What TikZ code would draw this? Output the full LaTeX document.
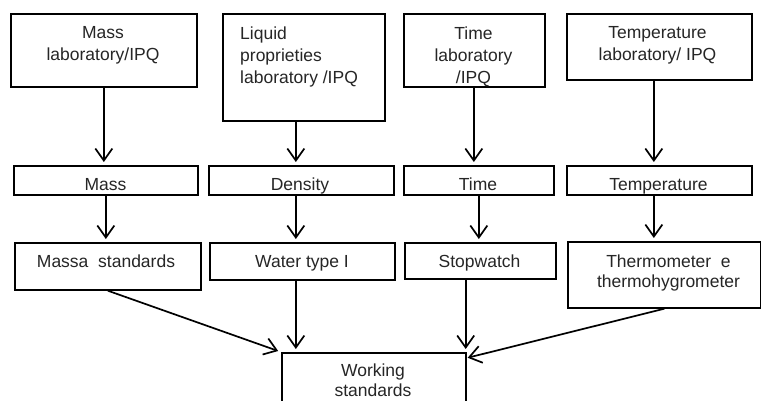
\documentclass[tikz,border=0pt]{standalone}
\usepackage{fontspec}
\setmainfont{Liberation Sans}
\usetikzlibrary{arrows.meta}
\tikzset{
  box/.style={draw, line width=1.7pt, inner sep=0pt, anchor=north west},
  txt/.style={inner sep=0pt, font=\fontsize{17.5}{22}\selectfont, align=center, text=black!85},
  arr/.style={line width=1.7pt, -{Straight Barb[length=12pt,width=17pt,line width=1.7pt]}, shorten >=3pt}
}
\begin{document}
\begin{tikzpicture}[x=1pt,y=-1pt]
\clip (0,0) rectangle (761,401);
\fill[white] (0,0) rectangle (761,401);
% top row
\node[box, minimum width=186pt, minimum height=73pt] (labM) at (10,13) {};
\node[box, minimum width=162pt, minimum height=107pt] (labL) at (222,13) {};
\node[box, minimum width=141pt, minimum height=73pt] (labT) at (403,13) {};
\node[box, minimum width=185pt, minimum height=66pt] (labTe) at (566,13) {};
% second row
\node[box, minimum width=184pt, minimum height=29pt] (mass) at (13,165) {};
\node[box, minimum width=185pt, minimum height=29pt] (dens) at (208,165) {};
\node[box, minimum width=150pt, minimum height=29pt] (time) at (403,165) {};
\node[box, minimum width=185pt, minimum height=29pt] (temp) at (566,165) {};
% third row
\node[box, minimum width=186pt, minimum height=47pt] (massa) at (14,242) {};
\node[box, minimum width=185pt, minimum height=37pt] (water) at (209,242) {};
\node[box, minimum width=151pt, minimum height=36pt] (stop) at (404,242) {};
\node[box, minimum width=193pt, minimum height=66pt] (thermo) at (567,241) {};
% bottom
\node[box, minimum width=184pt, minimum height=80pt] (work) at (281,352) {};
% texts
\node[txt, anchor=north] (tM) at (103,26.5) {Mass\\laboratory/IPQ};
\node[txt, anchor=north west, align=left] (tL) at (240,26.5) {Liquid\\proprieties\\laboratory /IPQ};
\node[txt, anchor=north] (tT) at (473.5,26.5) {Time\\laboratory\\/IPQ};
\node[txt, anchor=north] (tTe) at (657.5,26.5) {Temperature\\laboratory/ IPQ};
\node[txt, anchor=base] (tmass) at (105.5,191) {Mass};
\node[txt, anchor=base] (tdens) at (300,191) {Density};
\node[txt, anchor=base] (ttime) at (478,191) {Time};
\node[txt, anchor=base] (ttemp) at (658.5,191) {Temperature};
\node[txt, anchor=base] (tmassa) at (106,267) {Massa~ standards};
\node[txt, anchor=base] (twater) at (302,267) {Water type I};
\node[txt, anchor=base] (tstop) at (479.5,267) {Stopwatch};
\node[txt, anchor=north, font=\fontsize{17.5}{20.5}\selectfont] (tthermo) at (668.5,254.5) {Thermometer~ e\\thermohygrometer};
\node[txt, anchor=north, font=\fontsize{17.5}{20}\selectfont] (twork) at (373,364) {Working\\standards};
% arrows row 1 -> 2
\draw[arr] (labM.south) -- (labM.south |- mass.north);
\draw[arr] ([xshift=-8pt]labL.south) -- ([xshift=-8pt]labL.south |- dens.north);
\draw[arr] ([xshift=-0.5pt]labT.south) -- ([xshift=-0.5pt]labT.south |- time.north);
\draw[arr] ([xshift=-5.5pt]labTe.south) -- ([xshift=-5.5pt]labTe.south |- temp.north);
% arrows row 2 -> 3
\draw[arr] (mass.south) -- (mass.south |- massa.north);
\draw[arr] ([xshift=-5.5pt]dens.south) -- ([xshift=-5.5pt]dens.south |- water.north);
\draw[arr] (time.south) -- (time.south |- stop.north);
\draw[arr] ([xshift=-5.5pt]temp.south) -- ([xshift=-5.5pt]temp.south |- thermo.north);
% arrows row 3 -> working standards
\draw[arr] (massa.south) -- (work.north west);
\draw[arr] ([xshift=-6.5pt]water.south) -- ([xshift=-6.5pt]water.south |- work.north);
\draw[arr] ([xshift=-1pt]work.north east |- stop.south) -- ([xshift=-1pt]work.north east);
\draw[arr, shorten >=1pt] (thermo.south) -- ([yshift=-6pt]work.north east);
\end{tikzpicture}
\end{document}
